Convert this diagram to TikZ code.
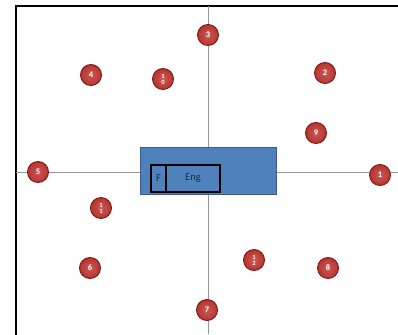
\documentclass[tikz,border=0pt]{standalone}
\usepackage{fontspec}
\setmainfont{Carlito}
\definecolor{ballred}{RGB}{185,50,45}
\definecolor{balledge}{RGB}{120,25,25}
\definecolor{boxblue}{RGB}{79,129,189}
\definecolor{boxedge}{RGB}{56,93,138}
\definecolor{axisgray}{RGB}{150,150,150}
\begin{document}
\begin{tikzpicture}[x=1pt,y=-1pt,
  ball/.style={circle,draw=balledge,line width=0.9pt,inner color=ballred!80!white,outer color=ballred,minimum size=21pt,inner sep=0pt,text=white,font=\fontsize{8.5}{8.5}\selectfont\bfseries},
  twoball/.style={ball,font=\fontsize{6.5}{6}\selectfont\bfseries,align=center},
  axis/.style={draw=axisgray,line width=0.6pt},
  inbox/.style={draw=black,line width=1.5pt,inner sep=0pt,font=\fontsize{10.5}{10.5}\selectfont,text=boxedge!50!black}]
\useasboundingbox (0,0) rectangle (398,334);
\clip (0,0) rectangle (398,334);
\fill[white] (0,0) rectangle (398,334);
% frame
\draw[line width=1.5pt] (16,345) -- (16,6) -- (410,6);
% axes
\coordinate (xl) at (16,172);
\coordinate (xr) at (398,172);
\coordinate (yt) at (208,6);
\coordinate (yb) at (208,334);
\draw[axis] (xl) -- (xr);
\draw[axis] (yt) -- (yb);
% central box
\node[draw=boxedge,fill=boxblue,line width=0.8pt,minimum width=136pt,minimum height=47pt,inner sep=0pt] (blk) at (208,170.5) {};
\node[inbox,minimum width=15pt,minimum height=27pt] (f) at (158.5,178.5) {F};
\node[inbox,minimum width=54pt,minimum height=27pt] (eng) at (193,178.5) {Eng};
% balls
\node[ball] (n3) at (208,35) {3};
\node[ball] (n4) at (91,75) {4};
\node[twoball] (n10) at (163,79) {1\\0};
\node[ball] (n2) at (325,73) {2};
\node[ball] (n9) at (316,133) {9};
\node[ball] (n5) at (38,172) {5};
\node[ball] (n1) at (380,175) {1};
\node[twoball] (n11) at (101,208) {1\\1};
\node[ball] (n6) at (90,268) {6};
\node[twoball] (n12) at (254,260) {1\\2};
\node[ball] (n8) at (328,268) {8};
\node[ball] (n7) at (207,310) {7};
\end{tikzpicture}
\end{document}
